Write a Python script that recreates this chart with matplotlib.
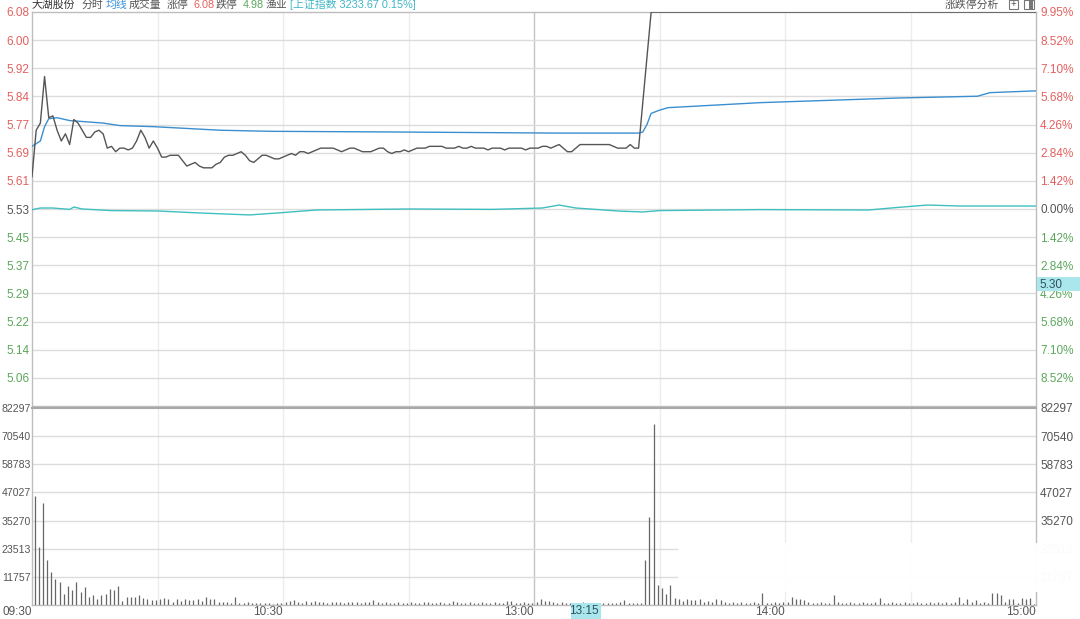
import matplotlib
matplotlib.use("Agg")
import matplotlib.pyplot as plt
from matplotlib.patches import Rectangle
from matplotlib.transforms import blended_transform_factory

plt.rcParams['font.family'] = ['Liberation Sans', 'Noto Sans CJK SC', 'DejaVu Sans']

# ---- data (minutes from 09:30, lunch break removed; 120 = 11:30/13:00) ----
pre_close = 5.53

price_min = [0, 1, 2, 3, 4, 5, 6, 7, 8, 9, 10, 11, 12, 13, 14, 15, 16, 17, 18, 19,
             20, 21, 22, 23, 24, 25, 26, 27, 28, 29, 30, 31, 32, 33, 34, 35, 36, 37, 38, 39,
             40, 41, 42, 43, 44, 45, 46, 47, 48, 49, 50, 51, 52, 53, 54, 55, 56, 57, 58, 59,
             60, 61, 62, 63, 64, 65, 66, 67, 68, 69, 70, 71, 72, 73, 74, 75, 76, 77, 78, 79,
             80, 81, 82, 83, 84, 85, 86, 87, 88, 89, 90, 91, 92, 93, 94, 95, 96, 97, 98, 99,
             100, 101, 102, 103, 104, 105, 106, 107, 108, 109, 110, 111, 112, 113, 114, 115,
             116, 117, 118, 119, 120, 121, 122, 123, 124, 125, 126, 127, 128, 129, 130, 131,
             132, 133, 134, 135, 136, 137, 138, 139, 140, 141, 142, 143, 144, 145, 148, 240]
price_val = [5.62, 5.75, 5.77, 5.90, 5.785, 5.79, 5.75, 5.72, 5.74, 5.71, 5.78, 5.77, 5.75, 5.73, 5.73, 5.745, 5.75, 5.74, 5.70, 5.705,
             5.69, 5.70, 5.70, 5.695, 5.70, 5.72, 5.75, 5.73, 5.70, 5.72, 5.70, 5.675, 5.675, 5.68, 5.68, 5.68, 5.665, 5.65, 5.655, 5.66,
             5.65, 5.645, 5.645, 5.645, 5.655, 5.66, 5.675, 5.68, 5.68, 5.685, 5.69, 5.68, 5.665, 5.66, 5.67, 5.68, 5.68, 5.675, 5.67, 5.67,
             5.675, 5.68, 5.685, 5.68, 5.69, 5.69, 5.685, 5.69, 5.695, 5.70, 5.70, 5.70, 5.70, 5.695, 5.69, 5.695, 5.70, 5.70, 5.695, 5.69,
             5.69, 5.69, 5.695, 5.70, 5.70, 5.69, 5.685, 5.69, 5.69, 5.695, 5.69, 5.695, 5.70, 5.70, 5.70, 5.705, 5.705, 5.705, 5.705, 5.70,
             5.70, 5.70, 5.705, 5.70, 5.70, 5.705, 5.70, 5.70, 5.70, 5.695, 5.70, 5.70, 5.70, 5.695, 5.70, 5.70,
             5.70, 5.70, 5.695, 5.70, 5.70, 5.70, 5.705, 5.705, 5.70, 5.705, 5.71, 5.70, 5.69, 5.69, 5.70, 5.71,
             5.71, 5.71, 5.71, 5.71, 5.71, 5.71, 5.71, 5.705, 5.70, 5.70, 5.70, 5.71, 5.70, 5.70, 6.08, 6.08]

avg_min = [0, 2, 3, 4, 6, 9, 17, 21, 29, 37, 45, 57, 88, 126, 145, 146, 147, 148, 150, 152, 174, 207, 226, 229, 240]
avg_val = [5.705, 5.72, 5.76, 5.782, 5.785, 5.777, 5.77, 5.763, 5.76, 5.755, 5.75, 5.747, 5.745, 5.742, 5.742,
           5.745, 5.766, 5.797, 5.806, 5.813, 5.827, 5.840, 5.845, 5.855, 5.86]

# Shanghai index, percent change, drawn on the same percent scale
idx_min = [0, 2, 5, 9, 10, 12, 19, 30, 40, 52, 60, 68, 90, 110, 122, 126, 130, 140, 146, 150, 174, 200, 207, 214, 222, 240]
idx_pct = [-0.035, 0.05, 0.05, -0.02, 0.10, 0.0, -0.08, -0.10, -0.20, -0.30, -0.18, -0.05, 0.0, -0.02, 0.05, 0.20,
           0.05, -0.10, -0.15, -0.08, -0.03, -0.05, 0.08, 0.20, 0.15, 0.15]

volume = [45600, 24200, 42600, 18800, 13800, 10900, 9600, 4600, 7900, 6300, 9600, 5400, 7500, 3400, 4200, 2500, 4200, 4600, 6700, 6300, 7900,
          1800, 3200, 3200, 3200, 4200, 2800, 2400, 2100, 2100, 2600, 2800, 2600, 1400, 2500, 1700, 2400, 2100, 2100, 2500, 1700,
          3200, 2400, 2600, 1400, 1100, 1400, 1000, 3200, 1000, 700, 1100, 850, 850, 700, 700, 700, 550, 700, 1000, 1300,
          1700, 2100, 1300, 700, 1500, 1300, 1500, 1100, 1300, 900, 1100, 1300, 1100, 900, 1100, 1300, 1100, 900, 1100, 1300,
          2000, 1100, 900, 1100, 1000, 900, 1100, 1000, 900, 1100, 1000, 900, 1100, 1400, 1000, 900, 1100, 1000, 900, 1700,
          1100, 900, 1000, 1100, 900, 1000, 1100, 900, 1000, 1200, 900, 1000, 1800, 1500, 900, 1000, 1100, 900, 1000, 1100,
          2500, 1700, 1700, 1100, 1000, 1100, 900, 700, 1000, 900, 1100, 900, 800, 1000, 700, 900, 1000, 700, 900, 1100,
          1900, 700, 900, 700, 900, 18800, 36800, 75700, 8300, 7000, 4600, 8300, 2800, 2400, 1800, 2400, 2100, 2100, 2400, 1400,
          1800, 1400, 2600, 2100, 1100, 1000, 1400, 900, 1100, 1000, 900, 1100, 1000, 4900, 1000, 900, 1100, 1000, 1400, 1100,
          3200, 2600, 2400, 2100, 1100, 1000, 900, 1100, 1000, 900, 4200, 1100, 1000, 900, 1100, 1000, 900, 1100, 1000, 900,
          1100, 2800, 1000, 900, 1100, 1000, 900, 1100, 1000, 900, 1100, 1000, 900, 1100, 1000, 1400, 900, 1100, 1000, 1300,
          3500, 1000, 2400, 1100, 2100, 1000, 1300, 900, 4900, 4900, 4200, 1100, 2400, 2600, 1000, 2800, 2600, 2800, 500, 3500]

price_ticks = [6.08, 6.00, 5.92, 5.84, 5.77, 5.69, 5.61, 5.53, 5.45, 5.37, 5.29, 5.22, 5.14, 5.06]
pct_labels = ["9.95%", "8.52%", "7.10%", "5.68%", "4.26%", "2.84%", "1.42%", "0.00%",
              "1.42%", "2.84%", "4.26%", "5.68%", "7.10%", "8.52%"]
vol_ticks = [82297, 70540, 58783, 47027, 35270, 23513, 11757]
time_ticks = [0, 60, 120, 180, 240]
time_labels = ["09:30", "10:30", "13:00", "14:00", "15:00"]

RED = "#e2605f"
GREEN = "#5ca65c"
GRAY = "#555555"
GRID = "#dcdcdc"

W, H = 1080, 619
fig = plt.figure(figsize=(W / 100, H / 100), dpi=100)

def fx(px):
    return px / W

def fy(py):
    return 1 - py / H

ax = fig.add_axes([fx(32), fy(406), fx(1036) - fx(32), fy(12) - fy(406)])
axv = fig.add_axes([fx(32), fy(605), fx(1036) - fx(32), fy(408) - fy(605)])

step = pre_close * 0.0995 / 7
lo, hi = pre_close - 7 * step, pre_close + 7 * step
grid_levels = [pre_close + k * step for k in range(7, -8, -1)]

for a in (ax, axv):
    a.set_xlim(0, 240)
    for s in a.spines.values():
        s.set_color("#bdbdbd")
        s.set_linewidth(1)
    for m in (30, 60, 90, 150, 180, 210):
        a.axvline(m, color="#ededed", lw=1, zorder=0)
    a.axvline(120, color="#c4c4c4", lw=1, zorder=0)

# price panel
ax.set_ylim(lo, hi)
for lvl in grid_levels[1:-1]:
    ax.axhline(lvl, color=GRID, lw=1, zorder=0)
ax.set_yticks(grid_levels[:-1])
ax.set_yticklabels(["%.2f" % t for t in price_ticks])
ax.set_xticks([])
ax.tick_params(axis="y", length=0, pad=2, labelsize=8.5)
for i, lab in enumerate(ax.get_yticklabels()):
    lab.set_color(RED if i < 7 else (GRAY if i == 7 else GREEN))

axr = ax.twinx()
axr.set_ylim(lo, hi)
axr.set_yticks(grid_levels[:-1])
axr.set_yticklabels(pct_labels)
axr.tick_params(axis="y", length=0, pad=3, labelsize=8.5)
for s in axr.spines.values():
    s.set_visible(False)
for i, lab in enumerate(axr.get_yticklabels()):
    lab.set_color(RED if i < 7 else (GRAY if i == 7 else GREEN))

ax.plot(idx_min, [pre_close * (1 + p / 100) for p in idx_pct], color="#3fbfbf", lw=1, zorder=3)
ax.plot(avg_min, avg_val, color="#3b8fd0", lw=1, zorder=4)
ax.plot(price_min, price_val, color="#555555", lw=1, zorder=5)

# volume panel
axv.set_ylim(0, vol_ticks[0])
for v in vol_ticks[1:]:
    axv.axhline(v, color=GRID, lw=1, zorder=0)
axv.spines["top"].set_color("#a8a8a8")
axv.spines["top"].set_linewidth(1.5)
axv.vlines([m + 0.6 for m in range(len(volume))], 0, volume, color="#666666", lw=0.9, zorder=3)
axv.set_yticks(vol_ticks)
axv.set_yticklabels([str(v) for v in vol_ticks])
axv.tick_params(axis="y", length=0, pad=1, labelsize=7.6, labelcolor=GRAY)
axv.set_xticks(time_ticks)
axv.set_xticklabels(time_labels, ha="right")
axv.tick_params(axis="x", length=0, pad=1, labelsize=8.5, labelcolor=GRAY)

axvr = axv.twinx()
axvr.set_ylim(0, vol_ticks[0])
axvr.set_yticks(vol_ticks)
axvr.set_yticklabels([str(v) for v in vol_ticks])
axvr.tick_params(axis="y", length=0, pad=3, labelsize=8.5, labelcolor=GRAY)
for s in axvr.spines.values():
    s.set_visible(False)

# washed-out watermark area in lower right
fig.patches.append(Rectangle((fx(678), fy(592)), 1 - fx(678), fy(543) - fy(592),
                             transform=fig.transFigure, facecolor="white", alpha=0.98,
                             edgecolor="none", zorder=10))

# crosshair labels
CYAN_BOX = "#a9e7ec"
tr = blended_transform_factory(fig.transFigure, ax.transData)
fig.patches.append(Rectangle((fx(1037), 5.30), 1 - fx(1037), 0.039, transform=tr,
                             facecolor=CYAN_BOX, edgecolor="none", zorder=11))
fig.text(fx(1039), 5.302, "5.30", transform=tr, fontsize=8.5, color="#2f5060",
         va="bottom", ha="left", zorder=12)
fig.patches.append(Rectangle((fx(571), fy(619)), fx(30), fy(603) - fy(619),
                             transform=fig.transFigure, facecolor=CYAN_BOX, edgecolor="none", zorder=11))
fig.text(fx(599), fy(611), "13:15", fontsize=8.5, color="#2f5060", ha="right", va="center", zorder=12)

# header
hy = fy(8)
header = [
    (32, "大湖股份", "#333333"), (82, "分时", "#555555"), (106, "均线", "#3a8fd8"),
    (129, "成交量", "#555555"), (167, "涨停", "#555555"), (193, "6.08", RED),
    (216, "跌停", "#555555"), (243, "4.98", GREEN), (266, "渔业", "#555555"),
    (290, "[上证指数 3233.67 0.15%]", "#3fb6c6"),
]
for x, s, c in header:
    fig.text(fx(x), hy, s, fontsize=7.8, color=c, ha="left", va="baseline")
fig.text(fx(999), hy, "涨跌停分析", fontsize=7.8, color="#555555", ha="right", va="baseline")
fig.patches.append(Rectangle((fx(1009), fy(9)), fx(9), fy(0) - fy(9), transform=fig.transFigure,
                             facecolor="white", edgecolor="#777777", lw=0.8))
fig.text(fx(1013.5), fy(4), "+", fontsize=7, color="#555555", ha="center", va="center")
fig.patches.append(Rectangle((fx(1024), fy(9)), fx(10), fy(0) - fy(9), transform=fig.transFigure,
                             facecolor="white", edgecolor="#777777", lw=0.8))
fig.patches.append(Rectangle((fx(1029), fy(9)), fx(4), fy(0) - fy(9), transform=fig.transFigure,
                             facecolor="#777777", edgecolor="none"))

fig.savefig("out.png", dpi=100)
